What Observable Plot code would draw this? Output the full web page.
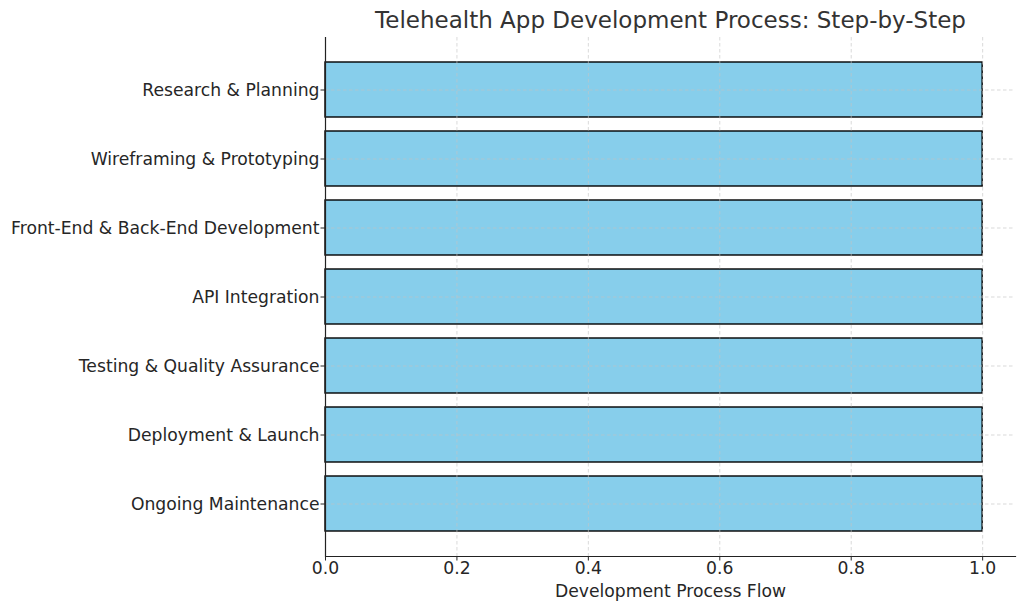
<!DOCTYPE html>
<html>
<head>
<meta charset="utf-8">
<script src="https://cdn.jsdelivr.net/npm/d3@7"></script>
<script src="https://cdn.jsdelivr.net/npm/@observablehq/plot@0.6"></script>
<style>
  html, body { margin: 0; padding: 0; background: #fff; }
  svg { font-family: "DejaVu Sans", sans-serif; }
</style>
</head>
<body>
<div id="chart"></div>
<script>
const steps = [
  "Research & Planning",
  "Wireframing & Prototyping",
  "Front-End & Back-End Development",
  "API Integration",
  "Testing & Quality Assurance",
  "Deployment & Launch",
  "Ongoing Maintenance"
];
const values = [1, 1, 1, 1, 1, 1, 1];
const xTicks = [0, 0.2, 0.4, 0.6, 0.8, 1.0];
const title = "Telehealth App Development Process: Step-by-Step";
const xLabel = "Development Process Flow";

const data = steps.map((s, i) => ({step: s, value: values[i]}));

const chart = Plot.plot({
  width: 1024,
  height: 611,
  marginLeft: 325,
  marginRight: 9,
  marginTop: 37,
  marginBottom: 55,
  style: {fontFamily: "DejaVu Sans, sans-serif", fontSize: "17.2px", color: "#262626", background: "#fff"},
  x: {domain: [0, 1.05], ticks: xTicks, tickFormat: d3.format(".1f")},
  y: {domain: steps, paddingInner: 0.2, paddingOuter: 0.345},
  marks: [
    Plot.barX(data, {x: "value", y: "step", fill: "#87CEEB", stroke: "#000", strokeWidth: 1.4}),
    Plot.gridX({ticks: xTicks, stroke: "#c4c4c4", strokeOpacity: 0.7, strokeDasharray: "3.5,2.5", strokeWidth: 0.9}),
    Plot.ruleY(steps, {y: d => d, stroke: "#c4c4c4", strokeOpacity: 0.7, strokeDasharray: "3.5,2.5", strokeWidth: 0.9}),
    Plot.ruleX([0], {stroke: "#222", strokeWidth: 1.2}),
    Plot.frame({anchor: "bottom", stroke: "#222", strokeWidth: 1.2}),
    Plot.axisX({ticks: xTicks, tickFormat: d3.format(".1f"), tickSize: 4.5, tickPadding: 1, label: null, fontSize: 17.2, fill: "#262626"}),
    Plot.axisY({tickSize: 4.5, tickPadding: 1.5, label: null, fontSize: 17.2, fill: "#262626"}),
    Plot.text([xLabel], {frameAnchor: "bottom", dy: 40, fontSize: 17.2, fill: "#262626"}),
    Plot.text([title], {frameAnchor: "top", dy: -26, fontSize: 23, fill: "#333"})
  ]
});
document.getElementById("chart").appendChild(chart);
</script>
</body>
</html>
